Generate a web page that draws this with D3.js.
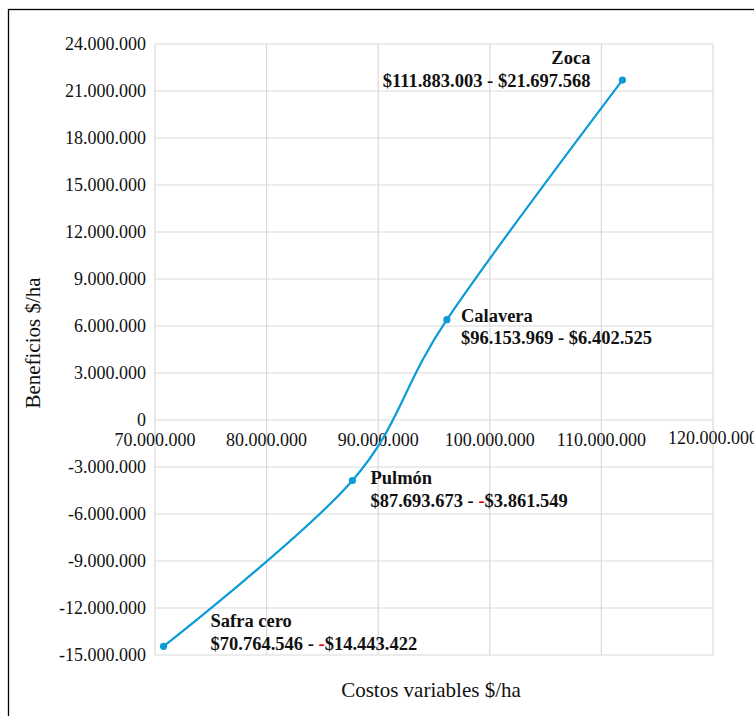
<!DOCTYPE html>
<html><head><meta charset="utf-8">
<script src="https://cdn.jsdelivr.net/npm/d3@7"></script>
<style>body{margin:0;background:#fff}svg{display:block}</style>
</head><body>
<script>
const names = ["Safra cero", "Pulmón", "Calavera", "Zoca"];
const costs = [70764546, 87693673, 96153969, 111883003];
const benefits = [-14443422, -3861549, 6402525, 21697568];
const xTicks = [70000000, 80000000, 90000000, 100000000, 110000000, 120000000];
const yTicks = [24000000, 21000000, 18000000, 15000000, 12000000, 9000000, 6000000, 3000000, 0, -3000000, -6000000, -9000000, -12000000, -15000000];
const xTitle = "Costos variables $/ha";
const yTitle = "Beneficios $/ha";

const W = 754, H = 716;
const loc = d3.formatLocale({decimal: ",", thousands: ".", grouping: [3], currency: ["$", ""], minus: "-"});
const fmt = loc.format(",d");

const svg = d3.select("body").append("svg").attr("width", W).attr("height", H);
svg.append("rect").attr("x", 8.5).attr("y", 9.5).attr("width", 800).attr("height", 800)
  .attr("fill", "#fff").attr("stroke", "#000").attr("stroke-width", 1.3);

const x = d3.scaleLinear().domain([70000000, 120000000]).range([155, 713]);
const y = d3.scaleLinear().domain([-15000000, 24000000]).range([655, 44]);

const font = "'Liberation Serif','Times New Roman',serif";
const grid = svg.append("g").attr("stroke", "#d9d9d9").attr("stroke-width", 1.2);
xTicks.forEach(t => grid.append("line").attr("x1", x(t)).attr("x2", x(t)).attr("y1", y(24000000)).attr("y2", y(-15000000)));
yTicks.forEach(t => grid.append("line").attr("y1", y(t)).attr("y2", y(t)).attr("x1", x(70000000)).attr("x2", x(120000000)));

svg.append("g").selectAll("text").data(yTicks).join("text")
  .attr("x", 146).attr("y", d => y(d)).attr("dy", "0.33em").attr("text-anchor", "end")
  .attr("font-family", font).attr("font-size", 18).attr("fill", "#111").text(d => fmt(d));

svg.append("g").selectAll("text").data(xTicks).join("text")
  .attr("x", d => x(d)).attr("y", d => d === 120000000 ? 444 : 446).attr("text-anchor", "middle")
  .attr("font-family", font).attr("font-size", 18).attr("fill", "#111").text(d => fmt(d));

svg.append("text").attr("x", 431).attr("y", 697).attr("text-anchor", "middle")
  .attr("font-family", font).attr("font-size", 21).attr("fill", "#111").text(xTitle);
svg.append("text").attr("transform", "translate(40,343) rotate(-90)").attr("text-anchor", "middle")
  .attr("font-family", font).attr("font-size", 21).attr("fill", "#111").text(yTitle);

const pts = costs.map((c, i) => [x(c), y(benefits[i])]);
svg.append("path").attr("d", d3.line().curve(d3.curveCardinal.tension(0))(pts))
  .attr("fill", "none").attr("stroke", "#0b9bd7").attr("stroke-width", 2.2);
svg.append("g").selectAll("circle").data(pts).join("circle")
  .attr("cx", d => d[0]).attr("cy", d => d[1]).attr("r", 3.6).attr("fill", "#0b9bd7");

const labelPos = [
  {dx: 47, dy: -19, anchor: "start"},
  {dx: 18, dy: 4, anchor: "start"},
  {dx: 14, dy: 2, anchor: "start"},
  {dx: -32, dy: -16, anchor: "end"}
];
names.forEach((n, i) => {
  const p = pts[i], lp = labelPos[i];
  const g = svg.append("g").attr("font-family", font).attr("font-size", 18.5).attr("font-weight", "bold").attr("fill", "#111");
  g.append("text").attr("x", p[0] + lp.dx).attr("y", p[1] + lp.dy).attr("text-anchor", lp.anchor).text(n);
  const t = g.append("text").attr("x", p[0] + lp.dx).attr("y", p[1] + lp.dy + 22.5).attr("text-anchor", lp.anchor);
  t.append("tspan").text("$" + fmt(costs[i]) + " - ");
  if (benefits[i] < 0) t.append("tspan").attr("fill", "#e00000").text("-");
  t.append("tspan").text("$" + fmt(Math.abs(benefits[i])));
});
</script>
</body></html>
